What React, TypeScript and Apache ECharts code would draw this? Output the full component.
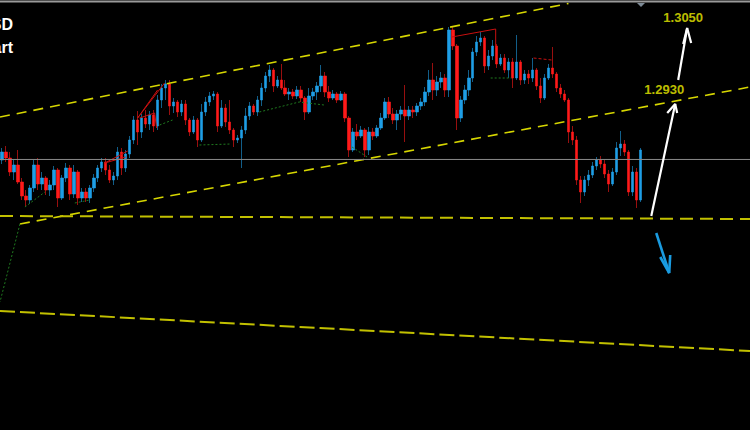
import React, { useEffect, useRef } from "react";
import * as echarts from "echarts";

// ---- data -------------------------------------------------------------
const slotCount = 188;
const slots: string[] = Array.from({ length: slotCount }, (_, i) => String(i));

// [open, close, low, high]
const candles: number[][] = [
  [1.28475, 1.28595, 1.28415, 1.28655],
  [1.28595, 1.28505, 1.28445, 1.28685],
  [1.28505, 1.28295, 1.28235, 1.28595],
  [1.28295, 1.284, 1.28175, 1.28475],
  [1.284, 1.28145, 1.28115, 1.28625],
  [1.28145, 1.27935, 1.27875, 1.28205],
  [1.27935, 1.27875, 1.2777, 1.28025],
  [1.27875, 1.28055, 1.27815, 1.281],
  [1.28055, 1.284, 1.27995, 1.28475],
  [1.284, 1.28115, 1.28025, 1.28505],
  [1.28115, 1.28205, 1.28025, 1.28295],
  [1.28205, 1.28025, 1.2795, 1.28235],
  [1.28025, 1.281, 1.27935, 1.28175],
  [1.281, 1.28325, 1.28025, 1.28385],
  [1.28325, 1.27905, 1.2777, 1.28355],
  [1.27905, 1.28205, 1.27875, 1.2825],
  [1.28205, 1.28355, 1.28145, 1.2843],
  [1.28355, 1.27965, 1.27875, 1.284],
  [1.27965, 1.28295, 1.27905, 1.284],
  [1.28295, 1.27905, 1.278, 1.28325],
  [1.27905, 1.27995, 1.27845, 1.28055],
  [1.27995, 1.27905, 1.27845, 1.28055],
  [1.27905, 1.28055, 1.2783, 1.281],
  [1.28055, 1.28205, 1.27995, 1.28265],
  [1.28205, 1.28355, 1.28145, 1.284],
  [1.28355, 1.28445, 1.28295, 1.28505],
  [1.28445, 1.28325, 1.2825, 1.28505],
  [1.28325, 1.28175, 1.2813, 1.284],
  [1.28175, 1.28235, 1.281, 1.28295],
  [1.28235, 1.28595, 1.28175, 1.2867],
  [1.28595, 1.28355, 1.2825, 1.28655],
  [1.28355, 1.28565, 1.28295, 1.28625],
  [1.28565, 1.28775, 1.28505, 1.28835],
  [1.28775, 1.29075, 1.28715, 1.29135],
  [1.29075, 1.28895, 1.287, 1.2921],
  [1.28895, 1.29105, 1.28805, 1.29165],
  [1.29105, 1.29015, 1.28955, 1.29225],
  [1.29015, 1.2915, 1.28925, 1.2921],
  [1.2915, 1.28985, 1.28895, 1.29225],
  [1.28985, 1.29375, 1.28925, 1.2945],
  [1.29375, 1.29555, 1.29255, 1.29615],
  [1.29555, 1.29615, 1.29375, 1.29675],
  [1.29615, 1.29285, 1.2915, 1.29675],
  [1.29285, 1.29345, 1.2918, 1.29405],
  [1.29345, 1.29195, 1.2912, 1.29375],
  [1.29195, 1.29315, 1.29135, 1.29375],
  [1.29315, 1.29075, 1.29, 1.29375],
  [1.29075, 1.28895, 1.28835, 1.29105],
  [1.28895, 1.29075, 1.28865, 1.29135],
  [1.29075, 1.28775, 1.2867, 1.29105],
  [1.28775, 1.29195, 1.28745, 1.29315],
  [1.29195, 1.29345, 1.29135, 1.2942],
  [1.29345, 1.29435, 1.29285, 1.29495],
  [1.29435, 1.29465, 1.29375, 1.2951],
  [1.29465, 1.28985, 1.28895, 1.29495],
  [1.28985, 1.29255, 1.28955, 1.29375],
  [1.29255, 1.29045, 1.2897, 1.29315],
  [1.29045, 1.28925, 1.28865, 1.29375],
  [1.28925, 1.28775, 1.2867, 1.28955],
  [1.28775, 1.28805, 1.2873, 1.2885],
  [1.28805, 1.28925, 1.28355, 1.28985],
  [1.28925, 1.29135, 1.28865, 1.29255],
  [1.29135, 1.29285, 1.29075, 1.29345],
  [1.29285, 1.29195, 1.2915, 1.29315],
  [1.29195, 1.29375, 1.29135, 1.29435],
  [1.29375, 1.29555, 1.29285, 1.2963],
  [1.29555, 1.29735, 1.29495, 1.29795],
  [1.29735, 1.29825, 1.29645, 1.299],
  [1.29825, 1.29585, 1.29495, 1.29855],
  [1.29585, 1.29675, 1.29555, 1.29735],
  [1.29675, 1.29555, 1.29525, 1.29915],
  [1.29555, 1.29465, 1.29435, 1.29675],
  [1.29465, 1.29495, 1.29375, 1.29555],
  [1.29495, 1.29435, 1.2939, 1.2954],
  [1.29435, 1.29525, 1.2939, 1.29585],
  [1.29525, 1.29405, 1.29345, 1.29585],
  [1.29405, 1.29195, 1.29075, 1.29435],
  [1.29195, 1.29435, 1.29165, 1.29555],
  [1.29435, 1.29495, 1.29375, 1.29555],
  [1.29495, 1.29585, 1.29375, 1.29645],
  [1.29585, 1.29735, 1.29495, 1.299],
  [1.29735, 1.29495, 1.2942, 1.29795],
  [1.29495, 1.29405, 1.29345, 1.29585],
  [1.29405, 1.29465, 1.29375, 1.29525],
  [1.29465, 1.29375, 1.2933, 1.29495],
  [1.29375, 1.29465, 1.2936, 1.2951],
  [1.29465, 1.29105, 1.29045, 1.29495],
  [1.29105, 1.28625, 1.2852, 1.29135],
  [1.28625, 1.28895, 1.28595, 1.28955],
  [1.28895, 1.28835, 1.28775, 1.29015],
  [1.28835, 1.28925, 1.28805, 1.28985],
  [1.28925, 1.28625, 1.2852, 1.28955],
  [1.28625, 1.28895, 1.2855, 1.2897],
  [1.28895, 1.28835, 1.28775, 1.28955],
  [1.28835, 1.28955, 1.28805, 1.29],
  [1.28955, 1.29105, 1.28925, 1.2918],
  [1.29105, 1.29345, 1.29075, 1.29405],
  [1.29345, 1.29165, 1.29105, 1.2942],
  [1.29165, 1.29075, 1.29015, 1.29255],
  [1.29075, 1.29165, 1.28925, 1.29225],
  [1.29165, 1.29225, 1.29075, 1.29285],
  [1.29225, 1.29135, 1.28745, 1.296],
  [1.29135, 1.29225, 1.29075, 1.29285],
  [1.29225, 1.29195, 1.29105, 1.29285],
  [1.29195, 1.29285, 1.29135, 1.2933],
  [1.29285, 1.29345, 1.29225, 1.29405],
  [1.29345, 1.29495, 1.29285, 1.2957],
  [1.29495, 1.29675, 1.29435, 1.29825],
  [1.29675, 1.29525, 1.29375, 1.2993],
  [1.29525, 1.29645, 1.29435, 1.29735],
  [1.29645, 1.29705, 1.29555, 1.29795],
  [1.29705, 1.29525, 1.2942, 1.29765],
  [1.29525, 1.30425, 1.2942, 1.3047],
  [1.30425, 1.30185, 1.30125, 1.3047],
  [1.30185, 1.29105, 1.28925, 1.30215],
  [1.29105, 1.29375, 1.29045, 1.29435],
  [1.29375, 1.29525, 1.29315, 1.296],
  [1.29525, 1.29705, 1.29435, 1.29825],
  [1.29705, 1.30095, 1.29645, 1.30155],
  [1.30095, 1.30245, 1.30035, 1.30335],
  [1.30245, 1.30305, 1.30185, 1.30395],
  [1.30305, 1.29885, 1.2978, 1.30335],
  [1.29885, 1.30035, 1.29825, 1.30125],
  [1.30035, 1.30185, 1.29975, 1.30275],
  [1.30185, 1.29915, 1.29855, 1.30215],
  [1.29915, 1.30005, 1.29885, 1.30065],
  [1.30005, 1.29825, 1.2978, 1.30065],
  [1.29825, 1.29945, 1.29705, 1.30005],
  [1.29945, 1.29705, 1.29555, 1.30005],
  [1.29705, 1.29945, 1.29675, 1.3035],
  [1.29945, 1.29675, 1.296, 1.29975],
  [1.29675, 1.29765, 1.29615, 1.29825],
  [1.29765, 1.29705, 1.29615, 1.29825],
  [1.29705, 1.29825, 1.29645, 1.30005],
  [1.29825, 1.29585, 1.29525, 1.29855],
  [1.29585, 1.29405, 1.2933, 1.29705],
  [1.29405, 1.29705, 1.29375, 1.29765],
  [1.29705, 1.29855, 1.29675, 1.29915],
  [1.29855, 1.29765, 1.29705, 1.3017],
  [1.29765, 1.29555, 1.29495, 1.29795],
  [1.29555, 1.29465, 1.29405, 1.29615],
  [1.29465, 1.29375, 1.29345, 1.29525],
  [1.29375, 1.28895, 1.2873, 1.29405],
  [1.28895, 1.28775, 1.287, 1.28985],
  [1.28775, 1.28175, 1.281, 1.28835],
  [1.28175, 1.27995, 1.2783, 1.28235],
  [1.27995, 1.28175, 1.27935, 1.28235],
  [1.28175, 1.2825, 1.28085, 1.28325],
  [1.2825, 1.28385, 1.28205, 1.28445],
  [1.28385, 1.28475, 1.28325, 1.2852],
  [1.28475, 1.28415, 1.28355, 1.28535],
  [1.28415, 1.28265, 1.28205, 1.28475],
  [1.28265, 1.28115, 1.27995, 1.28325],
  [1.28115, 1.28295, 1.28085, 1.28355],
  [1.28295, 1.28655, 1.2825, 1.28745],
  [1.28655, 1.28715, 1.28535, 1.2891],
  [1.28715, 1.28595, 1.28535, 1.28775],
  [1.28595, 1.27995, 1.27935, 1.28625],
  [1.27995, 1.28295, 1.27935, 1.28385],
  [1.28295, 1.27875, 1.27755, 1.28355],
  [1.27875, 1.28625, 1.27845, 1.28655],
];

// trend / level lines: [slot position, price]
const currentPrice = 1.28483;
const upperChannel: number[][] = [[-0.5, 1.2912], [142, 1.30823]];
const lowerChannel: number[][] = [[4.5, 1.27515], [187.5, 1.2957]];
const supportLine: number[][] = [[-0.5, 1.27635], [187.5, 1.2759]];
const bottomLine: number[][] = [[-0.5, 1.2621], [187.5, 1.2561]];

const greenDotted: number[][][] = [
  [[4.5, 1.27515], [-0.5, 1.26345]],
  [[5.75, 1.2777], [10.75, 1.27995]],
  [[18.25, 1.2783], [22, 1.27875]],
  [[39.5, 1.29], [42.75, 1.29075]],
  [[49.5, 1.287], [57.5, 1.28715]],
  [[64.5, 1.29195], [74.5, 1.29345], [80.75, 1.293]],
  [[87.75, 1.2867], [91.5, 1.2852]],
  [[122.5, 1.29705], [127.75, 1.29705]],
];

const redZigzag: number[][][] = [
  [[34, 1.29105], [40.75, 1.2963]],
  [[34, 1.29105], [39, 1.29525]],
  [[34.5, 1.29105], [38.25, 1.2918], [38.75, 1.28955]],
  [[25.75, 1.2843], [31.5, 1.2861]],
  [[25.75, 1.2843], [31, 1.2852]],
  [[112.75, 1.3032], [123.75, 1.3044], [123.75, 1.30155]],
];
const redDashed: number[][] = [[133.25, 1.30005], [137.75, 1.29975]];

// forecast arrows
const upArrowShort: number[][] = [[162.75, 1.27635], [168.75, 1.29315]];
const upArrowShortHead: number[][] = [[166.75, 1.2918], [168.75, 1.29315], [169.25, 1.2918]];
const upArrowLong: number[][] = [[169.5, 1.29675], [171.75, 1.30455]];
const upArrowLongHead: number[][] = [[170.75, 1.30215], [171.75, 1.30455], [172.75, 1.3023]];
const downArrow: number[][] = [[164, 1.2738], [167.25, 1.2678]];
const downArrowHead: number[][] = [[165, 1.2702], [167.25, 1.2678], [167.5, 1.2705]];

const targetLabels: (number | string)[][] = [
  [170.75, 1.30615, "1.3050"],
  [166, 1.2954, "1.2930"],
];

const yMin = 1.24425;
const yMax = 1.30875;

// ---- chart ------------------------------------------------------------
const lineSeries = (
  data: number[][],
  color: string,
  width: number,
  type: any,
  z = 3
) => ({
  type: "line",
  xAxisIndex: 1,
  yAxisIndex: 0,
  data,
  symbol: "none",
  silent: true,
  z,
  lineStyle: { color, width, type, cap: "butt" },
});

export default function App() {
  const ref = useRef<HTMLDivElement>(null);

  useEffect(() => {
    if (!ref.current) return;
    const chart = echarts.init(ref.current, undefined, { renderer: "svg" });

    const series: any[] = [
      {
        type: "candlestick",
        xAxisIndex: 0,
        yAxisIndex: 0,
        data: candles,
        barWidth: 3,
        z: 2,
        itemStyle: {
          color: "#1e9ee6",
          color0: "#ff1a1a",
          borderColor: "#1e9ee6",
          borderColor0: "#ff1a1a",
          borderWidth: 0.6,
        },
      },
      lineSeries([[-0.5, currentPrice], [187.5, currentPrice]], "#8a8a8a", 1, "solid", 4),
      lineSeries(upperChannel, "#d6d600", 1.6, [10, 7]),
      lineSeries(lowerChannel, "#d6d600", 1.6, [10, 7]),
      lineSeries(supportLine, "#c2c000", 2, [13, 7]),
      lineSeries(bottomLine, "#c2c000", 2, [15, 5]),
      ...greenDotted.map((d) => lineSeries(d, "#1f7a1f", 1, [2, 2])),
      ...redZigzag.map((d) => lineSeries(d, "#c81010", 1, "solid")),
      lineSeries(redDashed, "#c81010", 1, [3, 2]),
      lineSeries(upArrowShort, "#ffffff", 2.2, "solid", 5),
      lineSeries(upArrowShortHead, "#ffffff", 2.2, "solid", 5),
      lineSeries(upArrowLong, "#ffffff", 2.2, "solid", 5),
      lineSeries(upArrowLongHead, "#ffffff", 2.2, "solid", 5),
      lineSeries(downArrow, "#1a9be0", 2.6, "solid", 5),
      lineSeries(downArrowHead, "#1a9be0", 2.6, "solid", 5),
      {
        type: "scatter",
        xAxisIndex: 1,
        yAxisIndex: 0,
        data: targetLabels,
        symbolSize: 0.1,
        z: 6,
        itemStyle: { color: "rgba(0,0,0,0)" },
        label: {
          show: true,
          position: "inside",
          formatter: (p: any) => String(p.value[2]),
          color: "#f0f000",
          fontWeight: "bold",
          fontSize: 13,
          fontFamily: "Liberation Sans, Arial, sans-serif",
        },
      },
    ];

    chart.setOption({
      animation: false,
      backgroundColor: "#000000",
      grid: { left: 0, top: 0, width: 752, height: 430, containLabel: false },
      xAxis: [
        {
          type: "category",
          data: slots,
          boundaryGap: true,
          show: false,
        },
        {
          type: "value",
          min: -0.5,
          max: slotCount - 0.5,
          show: false,
        },
      ],
      yAxis: [
        {
          type: "value",
          min: yMin,
          max: yMax,
          show: false,
          splitLine: { show: false },
        },
      ],
      series,
      graphic: [
        {
          type: "line",
          shape: { x1: 0, y1: 1.5, x2: 750, y2: 1.5 },
          style: { stroke: "#9a9a9a", lineWidth: 2 },
          silent: true,
          z: 10,
        },
        {
          type: "polygon",
          shape: { points: [[637, 3], [645, 3], [641, 7]] },
          style: { fill: "#7d8a96" },
          silent: true,
          z: 10,
        },
        {
          type: "text",
          x: 13,
          y: 24,
          style: {
            text: "GBPUSD",
            fill: "#ffffff",
            font: "bold 16px 'Liberation Sans', Arial, sans-serif",
            align: "right",
            verticalAlign: "middle",
          },
          z: 10,
        },
        {
          type: "text",
          x: 13,
          y: 47.5,
          style: {
            text: "Chart",
            fill: "#ffffff",
            font: "bold 16px 'Liberation Sans', Arial, sans-serif",
            align: "right",
            verticalAlign: "middle",
          },
          z: 10,
        },
      ],
    });

    return () => chart.dispose();
  }, []);

  return (
    <div
      ref={ref}
      style={{
        position: "fixed",
        left: 0,
        top: 0,
        width: 750,
        height: 430,
        background: "#000",
      }}
    />
  );
}
